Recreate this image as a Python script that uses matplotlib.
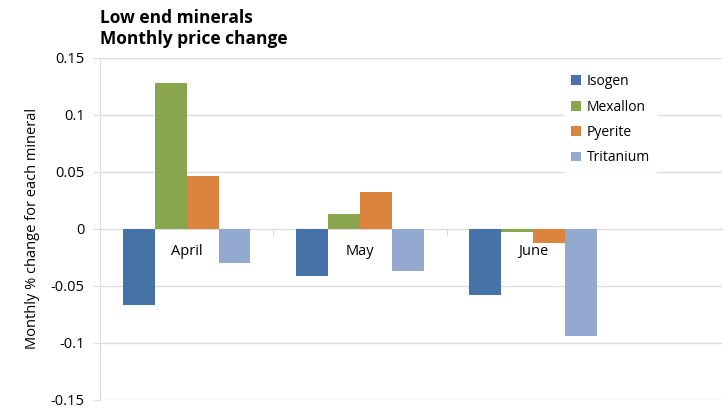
import matplotlib
matplotlib.use('Agg')
import matplotlib.pyplot as plt
import numpy as np

plt.rcParams['font.family'] = ['Open Sans', 'DejaVu Sans']

# data
months = ['April', 'May', 'June']
minerals = ['Isogen', 'Mexallon', 'Pyerite', 'Tritanium']
isogen = [-0.067, -0.041, -0.058]
mexallon = [0.128, 0.013, -0.003]
pyerite = [0.046, 0.032, -0.012]
tritanium = [-0.030, -0.037, -0.094]
series = [isogen, mexallon, pyerite, tritanium]
colors = ['#4572A7', '#89A54E', '#DB843D', '#93A9CF']

fig = plt.figure(figsize=(7.25, 4.08), dpi=100)
ax = fig.add_axes([0.138, 0.02, 0.858, 0.838])

x = np.arange(len(months))
width = 0.184
for i, (vals, name, c) in enumerate(zip(series, minerals, colors)):
    ax.bar(x + (i - 1.5) * width, vals, width, color=c, label=name, zorder=3)

# the plot area runs on past the last category, as in the original
ax.set_xlim(-0.5, 3.09)
ax.set_ylim(-0.15, 0.15)
ax.set_yticks([-0.15, -0.1, -0.05, 0, 0.05, 0.1, 0.15])
ax.set_yticklabels(['-0.15', '-0.1', '-0.05', '0', '0.05', '0.1', '0.15'])
ax.grid(axis='y', color='#dddddd', linewidth=1, zorder=0)

ax.set_xticks(x)
ax.set_xticklabels(months)
ax.set_xticks([0.5, 1.5], minor=True)
ax.tick_params(axis='x', which='major', length=0, pad=11, labelsize=10.5)
ax.tick_params(axis='x', which='minor', length=4, color='#cccccc')
ax.tick_params(axis='y', length=5, color='#dddddd', labelsize=10.5, pad=6)

ax.spines['bottom'].set_position(('data', 0))
ax.spines['bottom'].set_color('#dddddd')
ax.spines['left'].set_color('#dddddd')
ax.spines['top'].set_visible(False)
ax.spines['right'].set_visible(False)

ax.set_ylabel('Monthly % change for each mineral', fontsize=10.5, labelpad=8)

leg = ax.legend(loc='upper left', bbox_to_anchor=(0.735, 0.993), frameon=True,
                facecolor='white', edgecolor='white', framealpha=1,
                fontsize=10, handlelength=0.7, handleheight=0.7,
                handletextpad=0.4, labelspacing=0.75, borderpad=0.5)
leg.set_zorder(5)

fig.text(0.138, 0.978, 'Low end minerals\nMonthly price change', ha='left', va='top',
         fontsize=12.5, fontweight='bold', linespacing=1.2)

plt.savefig('out.png', dpi=100)
plt.close()
